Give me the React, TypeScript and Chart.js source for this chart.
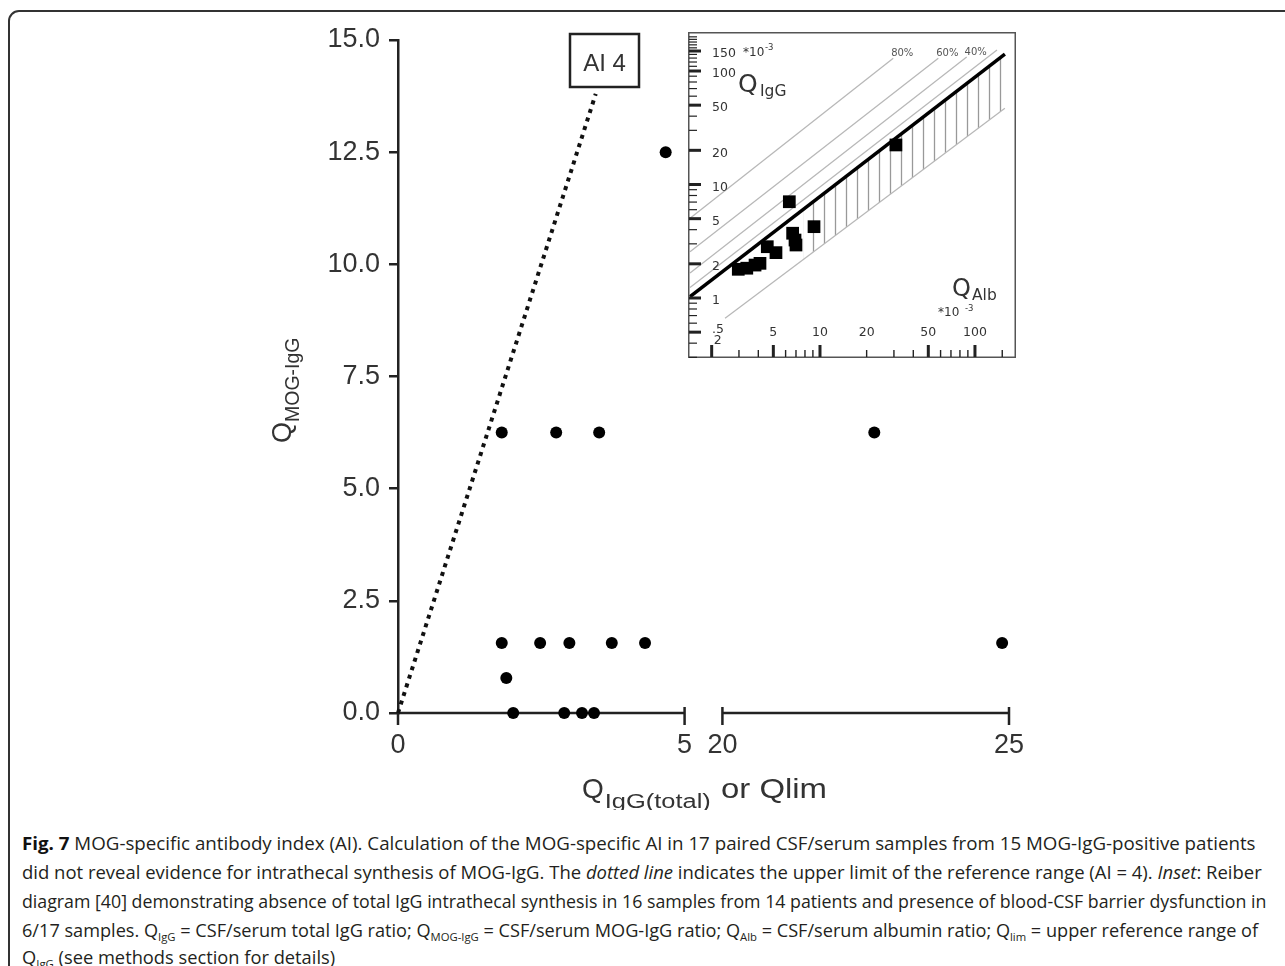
import React, { useEffect, useLayoutEffect, useRef } from "react";
import { Chart, registerables } from "chart.js";

Chart.register(...registerables);

// ---------------- Main chart data ----------------
const Q_IGG_TOTAL = [4.67, 1.81, 2.76, 3.51, 22.65, 1.81, 2.48, 2.99, 3.73, 4.31, 24.88, 1.89, 2.01, 2.9, 3.21, 3.42];
const Q_MOG_IGG = [12.5, 6.25, 6.25, 6.25, 6.25, 1.5625, 1.5625, 1.5625, 1.5625, 1.5625, 1.5625, 0.78, 0, 0, 0, 0];
const AI_LINE_X = [0, 3.45];
const AI_LINE_Y = [0, 13.8];
const X_TICKS = [0, 5, 20, 25];
const Y_TICKS = [0, 2.5, 5, 7.5, 10, 12.5, 15];
const AXIS_BREAK_LOW = 5;
const AXIS_BREAK_HIGH = 20;
const BREAK_GAP = 0.66;

// ---------------- Inset (Reiber diagram) data, units *10^-3 ----------------
const INSET_Q_ALB = [30.9, 6.34, 9.15, 6.66, 6.9, 7.0, 4.57, 5.2, 4.1, 3.37, 2.97, 3.81];
const INSET_Q_IGG = [22.3, 7.05, 4.25, 3.72, 3.24, 2.93, 2.83, 2.51, 2.02, 1.83, 1.79, 1.95];
const QLIM_X = [1.45, 156];
const QLIM_Y = [1.03, 141];
const QLOW_X = [2.44, 156];
const QLOW_Y = [0.662, 46.9];
const HATCH_X = [7.8, 156];
const HATCH_UPPER_Y = [6.04, 141];
const HATCH_LOWER_Y = [2.18, 46.9];
const LINE80_X = [1.45, 29.7];
const LINE80_Y = [5.04, 129.4];
const LINE60_X = [1.45, 58];
const LINE60_Y = [2.56, 129.4];
const LINE40_X = [1.45, 88.4];
const LINE40_Y = [1.66, 132.8];
const LINE20_X = [1.45, 138.7];
const LINE20_Y = [1.24, 153];
const PERCENT_LABELS = ["80%", "60%", "40%"];
const INSET_Y_MAJOR = [0.5, 1, 2, 5, 10, 20, 50, 100, 150];
const INSET_Y_LABELS = [".5", "1", "2", "5", "10", "20", "50", "100", "150"];
const INSET_Y_MINOR = [0.3, 0.4, 0.6, 0.7, 0.8, 0.9, 3, 4, 6, 7, 8, 9, 30, 40, 60, 70, 80, 90, 110, 120, 130, 140, 160, 170, 180, 190, 200];
const INSET_X_MAJOR = [2, 5, 10, 50, 100];
const INSET_X_MINOR = [3, 4, 6, 7, 8, 9, 20, 30, 40, 60, 70, 80, 90, 150];
const INSET_X_LABELS = [2, 5, 10, 20, 50, 100];
const INSET_X_MIN = 1.407;
const INSET_X_MAX = 184;
const INSET_Y_MIN = 0.296;
const INSET_Y_MAX = 220.6;

const FONT = '"Liberation Sans", Arial, sans-serif';
const IFONT = '"DejaVu Sans", Verdana, sans-serif';

const toAxis = (v: number) => (v <= AXIS_BREAK_LOW ? v : v - AXIS_BREAK_HIGH + AXIS_BREAK_LOW + BREAK_GAP);

function drawText(ctx: CanvasRenderingContext2D, text: string, x: number, y: number, font: string, width?: number) {
  ctx.font = font;
  const w = ctx.measureText(text).width;
  if (!width) {
    ctx.fillText(text, x, y);
    return w;
  }
  ctx.save();
  ctx.translate(x, y);
  ctx.scale(width / w, 1);
  ctx.fillText(text, 0, 0);
  ctx.restore();
  return width;
}

const mainDecor = {
  id: "mainDecor",
  beforeDatasetsDraw(chart: any) {
    const { ctx, scales } = chart;
    const x = scales.x;
    const y = scales.y;
    const y0 = y.getPixelForValue(0);
    ctx.save();
    ctx.strokeStyle = "#222";
    ctx.lineWidth = 2.5;
    const segs = [
      [X_TICKS[0], X_TICKS[1]],
      [X_TICKS[2], X_TICKS[3]],
    ];
    for (const [a, b] of segs) {
      const xa = x.getPixelForValue(toAxis(a));
      const xb = x.getPixelForValue(toAxis(b));
      ctx.beginPath();
      ctx.moveTo(xa, y0);
      ctx.lineTo(xb, y0);
      ctx.stroke();
      for (const [v, px] of [
        [a, xa],
        [b, xb],
      ]) {
        ctx.beginPath();
        ctx.moveTo(px, v === 0 ? y0 : y0 - 6);
        ctx.lineTo(px, y0 + 12);
        ctx.stroke();
      }
    }
    ctx.restore();
  },
  afterDraw(chart: any) {
    const { ctx } = chart;
    ctx.save();
    ctx.fillStyle = "#333";
    ctx.textAlign = "left";
    ctx.textBaseline = "alphabetic";
    // x title
    const qw0 = drawText(ctx, "Q", 582, 798, `28px ${FONT}`);
    drawText(ctx, "IgG(total)", 582 + qw0 + 1, 808, `20px ${FONT}`, 106);
    drawText(ctx, "or Qlim", 721, 798, `28px ${FONT}`, 106);
    // y title
    ctx.save();
    ctx.translate(291, 443);
    ctx.rotate(-Math.PI / 2);
    const qw = drawText(ctx, "Q", 0, 0, `27px ${FONT}`);
    drawText(ctx, "MOG-IgG", qw, 8, `19.5px ${FONT}`);
    ctx.restore();
    // AI 4 box
    ctx.strokeStyle = "#222";
    ctx.lineWidth = 2.5;
    ctx.strokeRect(570, 34, 69, 53);
    ctx.fillStyle = "#333";
    ctx.textAlign = "center";
    ctx.font = `24px ${FONT}`;
    ctx.fillText("AI 4", 604.5, 71);
    ctx.restore();
  },
};

const insetDecor = {
  id: "insetDecor",
  afterDatasetsDraw(chart: any) {
    const { ctx, scales, width, height } = chart;
    const x = scales.x;
    const y = scales.y;
    ctx.save();
    ctx.strokeStyle = "#555";
    ctx.lineWidth = 1.5;
    ctx.strokeRect(0.75, 0.75, width - 1.5, height - 1.5);
    ctx.strokeStyle = "#222";
    const seg = (x1: number, y1: number, x2: number, y2: number, lw: number) => {
      ctx.lineWidth = lw;
      ctx.beginPath();
      ctx.moveTo(x1, y1);
      ctx.lineTo(x2, y2);
      ctx.stroke();
    };
    INSET_Y_MAJOR.forEach((v) => {
      const py = y.getPixelForValue(v);
      seg(1, py, 13, py, 3);
    });
    INSET_Y_MINOR.forEach((v) => {
      const py = y.getPixelForValue(v);
      seg(1, py, 9, py, 1.2);
    });
    const by = height - 1;
    INSET_X_MAJOR.forEach((v) => {
      const px = x.getPixelForValue(v);
      seg(px, by, px, by - 12, 3);
    });
    INSET_X_MINOR.forEach((v) => {
      const px = x.getPixelForValue(v);
      seg(px, by, px, by - 7, 1.4);
    });
    // tick labels
    ctx.fillStyle = "#333";
    ctx.font = `12.5px ${IFONT}`;
    ctx.textAlign = "left";
    ctx.textBaseline = "middle";
    INSET_Y_MAJOR.forEach((v, i) => {
      const py = y.getPixelForValue(v);
      ctx.fillText(INSET_Y_LABELS[i], 24, v < 1 ? py - 2 : py + 3);
    });
    ctx.textAlign = "center";
    INSET_X_LABELS.forEach((v) => {
      const px = x.getPixelForValue(v);
      if (v === 2) ctx.fillText(String(v), px + 6, 309);
      else ctx.fillText(String(v), px, 301);
    });
    // percent labels
    ctx.fillStyle = "#555";
    ctx.font = `10px ${IFONT}`;
    const ends = [
      [LINE80_X[1], LINE80_Y[1]],
      [LINE60_X[1], LINE60_Y[1]],
      [LINE40_X[1], LINE40_Y[1]],
    ];
    ends.forEach(([vx, vy], i) => {
      ctx.fillText(PERCENT_LABELS[i], x.getPixelForValue(vx) + 9, y.getPixelForValue(vy) - 5);
    });
    // axis titles
    ctx.fillStyle = "#333";
    ctx.textAlign = "left";
    ctx.textBaseline = "alphabetic";
    drawText(ctx, "*10", 55, 24, `12px ${IFONT}`);
    drawText(ctx, "-3", 77, 18, `8.5px ${IFONT}`);
    drawText(ctx, "Q", 50, 60, `25px ${IFONT}`);
    drawText(ctx, "IgG", 72, 64, `15.5px ${IFONT}`);
    drawText(ctx, "Q", 264, 264, `24px ${IFONT}`);
    drawText(ctx, "Alb", 284, 268, `15.5px ${IFONT}`);
    drawText(ctx, "*10", 250, 284, `12px ${IFONT}`);
    drawText(ctx, "-3", 277, 279, `8.5px ${IFONT}`);
    ctx.restore();
  },
};

function MainChart() {
  const ref = useRef<HTMLCanvasElement>(null);
  useEffect(() => {
    const chart = new Chart(ref.current!, {
      type: "scatter",
      data: {
        datasets: [
          {
            type: "scatter",
            data: Q_IGG_TOTAL.map((v, i) => ({ x: toAxis(v), y: Q_MOG_IGG[i] })),
            pointRadius: 6,
            pointHoverRadius: 6,
            backgroundColor: "#000",
            borderWidth: 0,
            clip: false,
            order: 0,
          } as any,
          {
            type: "line",
            data: AI_LINE_X.map((v, i) => ({ x: v, y: AI_LINE_Y[i] })),
            borderColor: "#111",
            borderWidth: 4,
            borderDash: [4, 5],
            pointRadius: 0,
            fill: false,
            clip: false,
            order: 1,
          } as any,
        ],
      },
      options: {
        animation: false,
        responsive: false,
        events: [],
        layout: { autoPadding: false, padding: { left: 0, right: 276, top: 40, bottom: 0 } },
        plugins: { legend: { display: false }, tooltip: { enabled: false } },
        scales: {
          x: {
            type: "linear",
            min: 0,
            max: toAxis(X_TICKS[3]),
            afterBuildTicks: (s: any) => {
              s.ticks = X_TICKS.map((v) => ({ value: toAxis(v) }));
            },
            afterFit: (s: any) => {
              s.height = 97;
            },
            ticks: {
              autoSkip: false,
              maxRotation: 0,
              minRotation: 0,
              padding: 16,
              color: "#333",
              font: { family: FONT, size: 27 },
              callback: (_v: any, i: number) => String(X_TICKS[i]),
            },
            grid: { display: false, drawTicks: false },
            border: { display: false },
          },
          y: {
            type: "linear",
            min: Y_TICKS[0],
            max: Y_TICKS[Y_TICKS.length - 1],
            afterBuildTicks: (s: any) => {
              s.ticks = Y_TICKS.map((v) => ({ value: v }));
            },
            afterFit: (s: any) => {
              s.width = 398;
            },
            ticks: {
              padding: 9,
              color: "#333",
              font: { family: FONT, size: 27 },
              callback: (v: any) => Number(v).toFixed(1),
            },
            grid: { drawOnChartArea: false, drawTicks: true, tickLength: 9, color: "#222", lineWidth: 2.5 },
            border: { color: "#222", width: 2.5 },
          },
        },
      } as any,
      plugins: [mainDecor],
    });
    return () => chart.destroy();
  }, []);
  return (
    <canvas
      ref={ref}
      width={1285}
      height={810}
      style={{ position: "absolute", left: 0, top: 0, width: 1285, height: 810 }}
    />
  );
}

function InsetChart() {
  const ref = useRef<HTMLCanvasElement>(null);
  useEffect(() => {
    const canvas = ref.current!;
    const pc = document.createElement("canvas");
    pc.width = 11;
    pc.height = 11;
    const pctx = pc.getContext("2d")!;
    pctx.strokeStyle = "#999";
    pctx.lineWidth = 1.3;
    pctx.beginPath();
    pctx.moveTo(4.5, 0);
    pctx.lineTo(4.5, 11);
    pctx.stroke();
    const pattern = canvas.getContext("2d")!.createPattern(pc, "repeat");
    const pts = (xs: number[], ys: number[]) => xs.map((v, i) => ({ x: v, y: ys[i] }));
    const thin = (xs: number[], ys: number[]) => ({
      data: pts(xs, ys),
      borderColor: "#b8b8b8",
      borderWidth: 1.3,
      pointRadius: 0,
      fill: false,
      order: 2,
    });
    const chart = new Chart(canvas, {
      type: "line",
      data: {
        datasets: [
          {
            data: pts(INSET_Q_ALB, INSET_Q_IGG),
            showLine: false,
            pointStyle: "rect",
            pointRadius: 9,
            pointHoverRadius: 9,
            backgroundColor: "#000",
            borderWidth: 0,
            order: 0,
          },
          {
            data: pts(QLIM_X, QLIM_Y),
            borderColor: "#000",
            borderWidth: 3.5,
            pointRadius: 0,
            fill: false,
            order: 1,
          },
          {
            data: pts(HATCH_X, HATCH_UPPER_Y),
            borderWidth: 0,
            borderColor: "rgba(0,0,0,0)",
            pointRadius: 0,
            backgroundColor: pattern,
            fill: 3,
            order: 3,
          },
          {
            data: pts(HATCH_X, HATCH_LOWER_Y),
            borderWidth: 0,
            borderColor: "rgba(0,0,0,0)",
            pointRadius: 0,
            fill: false,
            order: 3,
          },
          thin(QLOW_X, QLOW_Y),
          thin(LINE80_X, LINE80_Y),
          thin(LINE60_X, LINE60_Y),
          thin(LINE40_X, LINE40_Y),
          thin(LINE20_X, LINE20_Y),
        ] as any,
      },
      options: {
        animation: false,
        responsive: false,
        events: [],
        layout: { autoPadding: false, padding: 0 },
        plugins: { legend: { display: false }, tooltip: { enabled: false } },
        scales: {
          x: { type: "logarithmic", min: INSET_X_MIN, max: INSET_X_MAX, display: false },
          y: { type: "logarithmic", min: INSET_Y_MIN, max: INSET_Y_MAX, display: false },
        },
      } as any,
      plugins: [insetDecor],
    });
    return () => chart.destroy();
  }, []);
  return (
    <canvas
      ref={ref}
      width={328}
      height={326}
      style={{ position: "absolute", left: 688, top: 32, width: 328, height: 326, background: "#fff" }}
    />
  );
}

const SUB: React.CSSProperties = { fontSize: "11.5px", verticalAlign: "-4px", lineHeight: 0 };
const sub = (t: string) => <sub style={SUB}>{t}</sub>;

const CAPTION_LINES = [
  <>
    <b style={{ color: "#111" }}>Fig. 7</b> MOG-specific antibody index (AI). Calculation of the MOG-specific AI in 17 paired CSF/serum samples from 15 MOG-IgG-positive patients
  </>,
  <>
    did not reveal evidence for intrathecal synthesis of MOG-IgG. The <i>dotted line</i> indicates the upper limit of the reference range (AI = 4). <i>Inset</i>: Reiber
  </>,
  <>diagram [40] demonstrating absence of total IgG intrathecal synthesis in 16 samples from 14 patients and presence of blood-CSF barrier dysfunction in</>,
  <>
    6/17 samples. Q{sub("IgG")} = CSF/serum total IgG ratio; Q{sub("MOG-IgG")} = CSF/serum MOG-IgG ratio; Q{sub("Alb")} = CSF/serum albumin ratio; Q{sub("lim")} = upper reference range of
  </>,
  <>Q{sub("IgG")} (see methods section for details)</>,
];
const CAPTION_WIDTHS = [1234, 1240, 1244, 1236];
const CAPTION_CENTERS = [842, 871, 900, 929, 956];

function Caption() {
  const refs = useRef<(HTMLSpanElement | null)[]>([]);
  useLayoutEffect(() => {
    const els = refs.current;
    const scales = CAPTION_WIDTHS.map((t, i) => t / (els[i]?.offsetWidth || t));
    const avg = scales.reduce((a, b) => a + b, 0) / scales.length;
    els.forEach((el, i) => {
      if (el) el.style.transform = `scaleX(${i < scales.length ? scales[i] : avg})`;
    });
  }, []);
  return (
    <>
      {CAPTION_LINES.map((line, i) => (
        <div
          key={i}
          style={{
            position: "absolute",
            left: 22,
            top: CAPTION_CENTERS[i] - 14.5,
            height: 29,
            lineHeight: "29px",
            whiteSpace: "nowrap",
          }}
        >
          <span
            ref={(el) => {
              refs.current[i] = el;
            }}
            style={{
              display: "inline-block",
              transformOrigin: "left center",
              fontFamily: '"Open Sans", sans-serif',
              fontSize: "18.5px",
              color: "#231f20",
            }}
          >
            {line}
          </span>
        </div>
      ))}
    </>
  );
}

export default function App() {
  return (
    <div
      style={{
        position: "absolute",
        left: 0,
        top: 0,
        width: 1285,
        height: 966,
        overflow: "hidden",
        background: "#fff",
      }}
    >
      <div
        style={{
          position: "absolute",
          left: 8,
          top: 10,
          width: 1300,
          height: 990,
          border: "2px solid #333",
          borderRadius: 11,
          boxSizing: "border-box",
        }}
      />
      <MainChart />
      <InsetChart />
      <Caption />
    </div>
  );
}
